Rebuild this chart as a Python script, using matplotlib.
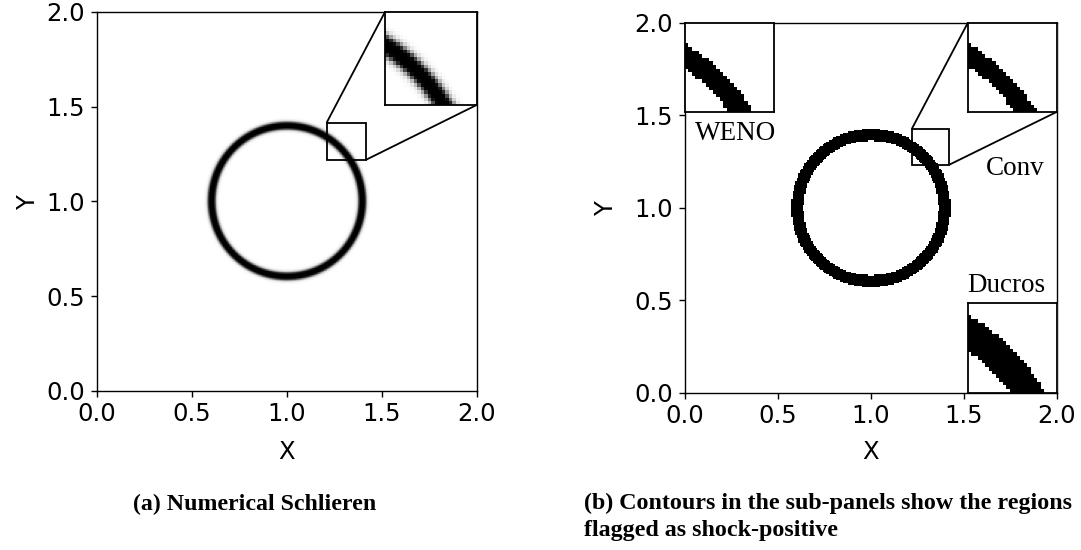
import numpy as np
import matplotlib
matplotlib.use("Agg")
import matplotlib.pyplot as plt
from mpl_toolkits.axes_grid1.inset_locator import mark_inset

# ---------------- data / parameters ----------------
domain = [0.0, 2.0]
ticks = [0.0, 0.5, 1.0, 1.5, 2.0]
tick_labels = ["0.0", "0.5", "1.0", "1.5", "2.0"]
circle_center = [1.0, 1.0]
n_cells = 256

# (a) numerical schlieren of a circular interface
schlieren_radius_main = 0.398
schlieren_radius_zoom = 0.406
schlieren_width = 0.009
schlieren_gain = 10.0
zoom_a = [1.209, 1.414, 1.219, 1.416]          # x1, x2, y1, y2

# (b) shock-positive bands (inner radius, outer radius)
band_main = [0.365, 0.43]
band_weno = [0.396, 0.442]
band_conv = [0.401, 0.443]
band_ducros = [0.392, 0.458]
zoom_b = [1.219, 1.421, 1.234, 1.427]

inset_names = ["WENO", "Conv", "Ducros"]
caption_a = "(a) Numerical Schlieren"
caption_b = ["(b) Contours in the sub-panels show the regions",
             "flagged as shock-positive"]

# ---------------- fields ----------------
xs = np.linspace(domain[0], domain[1], n_cells)
X, Y = np.meshgrid(xs, xs)
R = np.hypot(X - circle_center[0], Y - circle_center[1])


def schlieren(r0):
    rho = 0.5 * (1 - np.tanh((R - r0) / schlieren_width))
    gy, gx = np.gradient(rho, xs, xs)
    grad = np.hypot(gx, gy)
    return np.exp(-schlieren_gain * grad / grad.max())


def band(b):
    return ((R >= b[0]) & (R <= b[1])).astype(float)


ext = [domain[0], domain[1], domain[0], domain[1]]

# ---------------- figure ----------------
fig = plt.figure(figsize=(10.81, 5.5), dpi=100)
tick_fs = 17.5
serif = ["Liberation Serif", "DejaVu Serif"]


def style(ax, ylab_x, xlab_y):
    ax.set_xlim(domain)
    ax.set_ylim(domain)
    ax.set_xticks(ticks)
    ax.set_xticklabels(tick_labels)
    ax.set_yticks(ticks)
    ax.set_yticklabels(tick_labels)
    ax.tick_params(labelsize=tick_fs, length=4.3, width=1)
    ax.tick_params(axis="x", pad=3.5)
    ax.tick_params(axis="y", pad=4.5)
    ax.set_xlabel("X", fontsize=tick_fs)
    ax.set_ylabel("Y", fontsize=tick_fs)
    ax.xaxis.set_label_coords(0.5, xlab_y)
    ax.yaxis.set_label_coords(ylab_x, 0.5)
    for s in ax.spines.values():
        s.set_linewidth(1.0)


def plain_inset(ax, rect, img, lims, cmap, interp):
    axi = ax.inset_axes(rect, transform=ax.transData)
    axi.imshow(img, extent=ext, origin="lower", cmap=cmap, vmin=0,
               vmax=1, interpolation=interp, aspect="auto")
    axi.set_xlim(lims[0], lims[1])
    axi.set_ylim(lims[2], lims[3])
    axi.set_xticks([])
    axi.set_yticks([])
    for s in axi.spines.values():
        s.set_linewidth(1.3)
    return axi


# (a)
axa = fig.add_axes([0.0897, 0.2891, 0.3515, 0.6891])
axa.imshow(schlieren(schlieren_radius_main), extent=ext, origin="lower",
           cmap="gray", vmin=0, vmax=1, aspect="auto")
style(axa, -0.15, -0.129)
ia = plain_inset(axa, [1.516, 1.51, 0.484, 0.49],
                 schlieren(schlieren_radius_zoom), zoom_a, "gray", "nearest")
mark_inset(axa, ia, loc1=2, loc2=4, fc="none", ec="black", lw=1.3)

# (b)
axb = fig.add_axes([0.6337, 0.2855, 0.3441, 0.6727])
axb.imshow(band(band_main), extent=ext, origin="lower", cmap="gray_r",
           vmin=0, vmax=1, interpolation="nearest", aspect="auto")
style(axb, -0.18, -0.127)
iw = plain_inset(axb, [0.0, 1.52, 0.48, 0.48], band(band_weno), zoom_b,
                 "gray_r", "nearest")
ic = plain_inset(axb, [1.52, 1.52, 0.48, 0.48], band(band_conv), zoom_b,
                 "gray_r", "nearest")
idu = plain_inset(axb, [1.52, 0.0, 0.48, 0.487], band(band_ducros), zoom_b,
                  "gray_r", "nearest")
mark_inset(axb, ic, loc1=2, loc2=4, fc="none", ec="black", lw=1.3)

lab_fs = 19.5
axb.text(0.054, 1.367, inset_names[0], fontsize=lab_fs, family=serif,
         ha="left", va="baseline")
axb.text(1.62, 1.178, inset_names[1], fontsize=lab_fs, family=serif,
         ha="left", va="baseline")
axb.text(1.516, 0.546, inset_names[2], fontsize=lab_fs, family=serif,
         ha="left", va="baseline")

# captions
cap_fs = 17.2
fig.text(133 / 1081, 1 - 510 / 550, caption_a, fontsize=cap_fs,
         family=serif, weight="bold", ha="left", va="baseline")
fig.text(584 / 1081, 1 - 509 / 550, caption_b[0], fontsize=17.3,
         family=serif, weight="bold", ha="left", va="baseline")
fig.text(584 / 1081, 1 - 536 / 550, caption_b[1], fontsize=17.3,
         family=serif, weight="bold", ha="left", va="baseline")

fig.savefig("out.png", dpi=100)
